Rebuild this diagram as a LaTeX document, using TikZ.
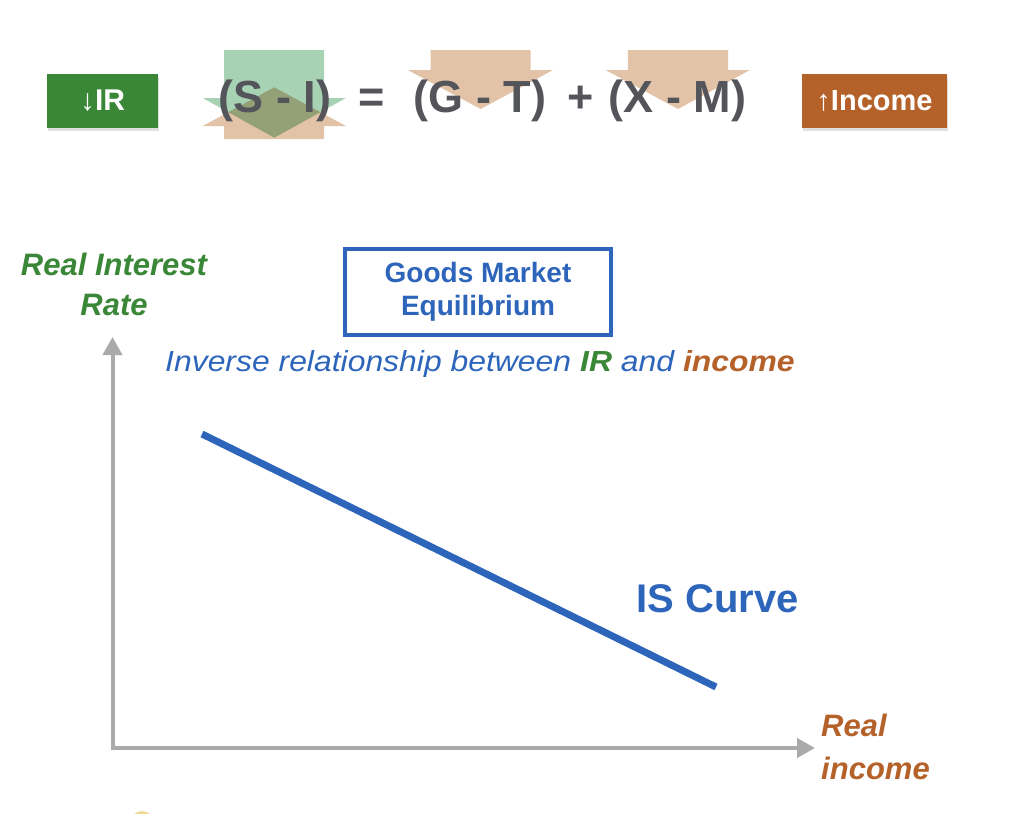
\documentclass[tikz,border=0pt]{standalone}
\usepackage{fontspec}
\setmainfont{Liberation Sans}
\newfontfamily\widefont[FakeStretch=1.1]{Liberation Sans}
\usetikzlibrary{arrows.meta, positioning, shadows}
\definecolor{ircolor}{RGB}{58, 135, 55}
\definecolor{incomecolor}{RGB}{181, 97, 42}
\definecolor{curvecolor}{RGB}{45, 101, 187}
\definecolor{axiscolor}{RGB}{170, 170, 170}
\definecolor{eqcolor}{RGB}{84, 85, 90}
\definecolor{flowgreen}{RGB}{168, 210, 180}
\definecolor{flowtan}{RGB}{226, 195, 168}
\definecolor{blobcolor}{RGB}{242, 218, 150}

\begin{document}
\begin{tikzpicture}[
    x=1pt, y=-1pt,
    tagbox/.style={
        minimum height=54pt,
        inner sep=0pt,
        text=white,
        font=\fontsize{30}{36}\selectfont\bfseries,
        drop shadow={shadow xshift=1pt, shadow yshift=-3pt, opacity=0.25}
    },
    eqpart/.style={
        anchor=base,
        inner sep=0pt,
        text=eqcolor,
        font=\fontsize{45}{54}\selectfont\bfseries
    },
    goodsbox/.style={
        draw=curvecolor,
        line width=4pt,
        minimum width=266pt,
        minimum height=86pt,
        align=center,
        text=curvecolor,
        font=\fontsize{28}{32.6}\selectfont\bfseries
    },
    axislabel/.style={
        inner sep=0pt,
        font=\fontsize{31}{40}\selectfont\bfseries\itshape
    },
    axis/.style={
        draw=axiscolor,
        line width=4pt,
        {Triangle[length=18pt, width=19pt]}-{Triangle[length=18pt, width=19pt]}
    },
    iscurve/.style={
        draw=curvecolor,
        line width=7pt
    },
    flowup/.style={fill=flowtan},
    flowdown/.style={fill=flowgreen, blend mode=multiply}
]
\useasboundingbox (0,0) rectangle (1010,814);

% ==================== FLOW ARROWS ====================
\fill[flowup] (224,139) -- (224,126) -- (202.7,126) -- (274.3,87.3) -- (346,126) -- (324,126) -- (324,139) -- cycle;
\fill[flowdown] (224,50) -- (324,50) -- (324,98) -- (346,98) -- (274.3,137.7) -- (202.7,98) -- (224,98) -- cycle;
\fill[flowup] (430.7,50) -- (530.7,50) -- (530.7,70) -- (553,70) -- (480.7,109) -- (407.8,70) -- (430.7,70) -- cycle;
\fill[flowup] (627.8,50) -- (728,50) -- (728,70) -- (750,70) -- (678,109) -- (605.6,70) -- (627.8,70) -- cycle;

% ==================== EQUATION ====================
\node[eqpart] (saving) at (275,112) {(S - I)};
\node[eqpart] (equals) at (371.7,112) {=};
\node[eqpart] (budget) at (480,112) {(G - T)};
\node[eqpart] (plus) at (581,112) {+};
\node[eqpart] (trade) at (677.7,112) {(X - M)};

% Tags
\node[tagbox, fill=ircolor, minimum width=111pt] (irtag) at (102.5,101) {↓IR};
\node[tagbox, fill=incomecolor, minimum width=145pt, font=\fontsize{29}{35}\selectfont\bfseries] (incometag) at (874.5,101) {↑Income};

% ==================== GRAPH ====================
\node[goodsbox] (goods) at (478,292) {Goods Market\\Equilibrium};
\node[axislabel, align=center, text=ircolor] (ylabel) at (114,284.7) {Real Interest\\Rate};
\node[anchor=base west, inner sep=0pt, text=curvecolor,
      font=\widefont\fontsize{29}{34}\selectfont\itshape] (relation) at (165,371.7)
      {Inverse relationship between \textcolor{ircolor}{\bfseries IR} and \textcolor{incomecolor}{\bfseries income}};

\coordinate (origin) at (112.5,748);
\coordinate (ytop) at (112.5,337);
\coordinate (xend) at (815,748);
\draw[axis] (ytop) -- (origin) -- (xend);

\coordinate (isstart) at (202,434);
\coordinate (isend) at (716,687);
\draw[iscurve] (isstart) -- (isend);
\node[anchor=base west, inner sep=0pt, text=curvecolor,
      font=\fontsize{40}{48}\selectfont\bfseries] (islabel) at (636.5,612) {IS Curve};

\node[axislabel, align=left, anchor=west, text=incomecolor,
      font=\fontsize{31}{43}\selectfont\bfseries\itshape] (xlabel) at (821,747.2) {Real\\income};

% partly hidden marker
\fill[blobcolor] (142,823) circle[radius=12pt];

\end{tikzpicture}
\end{document}
